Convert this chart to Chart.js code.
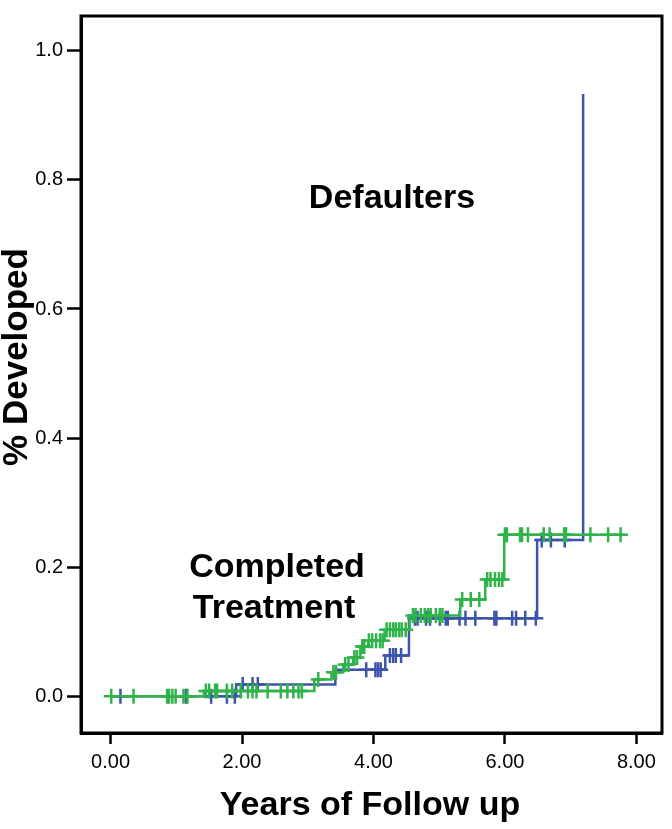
<!DOCTYPE html>
<html>
<head>
<meta charset="utf-8">
<script src="https://cdn.jsdelivr.net/npm/chart.js@4"></script>
<style>
  html, body { margin: 0; padding: 0; background: #fff; }
  #wrap { width: 672px; height: 829px; }
</style>
</head>
<body>
<div id="wrap"><canvas id="km"></canvas></div>
<script>
// step points (time in years, cumulative proportion)
const blueStepT = [0, 1.91, 3.42, 4.18, 4.54, 6.49, 7.19];
const blueStepV = [0, 0.018, 0.041, 0.063, 0.121, 0.242, 0.933];
const greenStepT = [0, 1.42, 3.10, 3.36, 3.54, 3.69, 3.80, 3.92, 4.17, 4.55, 5.32, 5.70, 5.99, 7.82];
const greenStepV = [0, 0.008, 0.026, 0.037, 0.049, 0.060, 0.077, 0.086, 0.103, 0.125, 0.150, 0.181, 0.250, 0.250];

// censored times
const blueCensor = [0.15, 1.15, 1.53, 1.77, 1.89, 2.01, 2.16, 2.24, 3.89, 4.03, 4.07, 4.11,
  4.25, 4.30, 4.34, 4.42, 4.63, 4.67, 4.80, 4.86, 5.01, 5.10, 5.13, 5.31, 5.40, 5.55,
  5.84, 5.87, 6.11, 6.17, 6.31, 6.47, 6.56, 6.70, 6.91];
const greenCensor = [0.01, 0.35, 0.86, 0.89, 0.94, 0.99, 1.11, 1.17, 1.45, 1.50, 1.59, 1.62,
  1.77, 1.85, 1.98, 2.09, 2.16, 2.22, 2.39, 2.59, 2.69, 2.78, 2.86, 2.91, 3.16, 3.39, 3.43,
  3.57, 3.62, 3.71, 3.75, 3.83, 3.86, 3.93, 3.98, 4.04, 4.10, 4.14, 4.20, 4.25, 4.30, 4.34,
  4.39, 4.43, 4.49, 4.60, 4.64, 4.72, 4.78, 4.83, 4.87, 4.95, 5.01, 5.05, 5.35, 5.48, 5.61,
  5.73, 5.78, 5.85, 5.91, 5.96, 6.00, 6.03, 6.23, 6.26, 6.35, 6.59, 6.68, 6.90, 6.93, 7.30,
  7.57, 7.76];

const xTicks = [0, 2, 4, 6, 8];
const yTicks = [0, 0.2, 0.4, 0.6, 0.8, 1.0];

const BLUE = '#3d54aa';
const GREEN = '#2fb34b';

function levelAt(T, V, t) {
  let v = V[0];
  for (let i = 0; i < T.length; i++) if (T[i] <= t) v = V[i];
  return v;
}
const pts = (T, V) => T.map((t, i) => ({ x: t, y: V[i] }));
const censorPts = (C, T, V) => C.map(t => ({ x: t, y: levelAt(T, V, t) }));

// frame + free text labels
const extras = {
  id: 'extras',
  afterDraw(chart) {
    const { ctx, chartArea: a } = chart;
    ctx.save();
    ctx.strokeStyle = '#000';
    ctx.lineWidth = 3;
    ctx.strokeRect(a.left, a.top, a.right - a.left, a.bottom - a.top);

    ctx.fillStyle = '#000';
    ctx.textAlign = 'center';
    ctx.textBaseline = 'middle';
    ctx.font = 'bold 34px "Liberation Sans", Arial, sans-serif';
    ctx.fillText('Defaulters', 392, 199);
    ctx.fillText('Completed', 277, 568);
    ctx.fillText('Treatment', 274, 609);

    ctx.fillText('Years of Follow up', 370, 806);

    ctx.translate(17, 357);
    ctx.rotate(-Math.PI / 2);
    ctx.font = 'bold 35px "Liberation Sans", Arial, sans-serif';
    ctx.fillText('% Developed', 0, 0);
    ctx.restore();
  }
};

new Chart(document.getElementById('km'), {
  type: 'scatter',
  data: {
    datasets: [
      {
        label: 'Defaulters', data: pts(blueStepT, blueStepV), showLine: true, stepped: true,
        borderColor: BLUE, borderWidth: 2.5, pointRadius: 0, order: 2
      },
      {
        label: 'Defaulters censored', data: censorPts(blueCensor, blueStepT, blueStepV),
        pointStyle: 'cross', pointRadius: 7.5, borderColor: BLUE, borderWidth: 2.5, order: 2
      },
      {
        label: 'Completed Treatment', data: pts(greenStepT, greenStepV), showLine: true, stepped: true,
        borderColor: GREEN, borderWidth: 2.5, pointRadius: 0, order: 1
      },
      {
        label: 'Completed censored', data: censorPts(greenCensor, greenStepT, greenStepV),
        pointStyle: 'cross', pointRadius: 7.5, borderColor: GREEN, borderWidth: 2.5, order: 1
      }
    ]
  },
  options: {
    responsive: true,
    maintainAspectRatio: false,
    animation: false,
    layout: { padding: { top: 9, right: 6, left: 0, bottom: 0 } },
    plugins: { legend: { display: false }, tooltip: { enabled: false } },
    scales: {
      x: {
        type: 'linear', min: -0.45, max: 8.39,
        afterBuildTicks: s => { s.ticks = xTicks.map(v => ({ value: v })); },
        afterFit: s => { s.height = 96; },
        grid: { drawOnChartArea: false, drawTicks: true, tickLength: 11, tickWidth: 2.5, tickColor: '#000' },
        border: { display: true, color: '#000', width: 3 },
        ticks: {
          color: '#000', padding: 6, maxRotation: 0,
          font: { family: '"Liberation Sans", Arial, sans-serif', size: 20 },
          callback: v => Number(v).toFixed(2)
        }
      },
      y: {
        type: 'linear', min: -0.057, max: 1.054,
        afterBuildTicks: s => { s.ticks = yTicks.map(v => ({ value: v })); },
        afterFit: s => { s.width = 81; },
        grid: { drawOnChartArea: false, drawTicks: true, tickLength: 14, tickWidth: 2.5, tickColor: '#000' },
        border: { display: true, color: '#000', width: 3 },
        ticks: {
          color: '#000', padding: 4,
          font: { family: '"Liberation Sans", Arial, sans-serif', size: 20 },
          callback: v => Number(v).toFixed(1)
        }
      }
    }
  },
  plugins: [extras]
});
</script>
</body>
</html>
